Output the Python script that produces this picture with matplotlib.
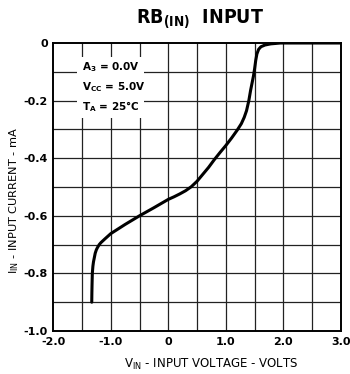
import matplotlib
matplotlib.use("Agg")
import matplotlib.pyplot as plt
from matplotlib.patches import Rectangle

# Input characteristic: input voltage (V) vs input current (mA)
v_in = [-1.33, -1.328, -1.325, -1.32, -1.31, -1.30, -1.285, -1.27, -1.25, -1.23,
        -1.20, -1.17, -1.10, -1.00, -0.75, -0.50, -0.25, 0.00, 0.10, 0.20,
        0.30, 0.40, 0.50, 0.60, 0.70, 0.80, 0.90, 1.00, 1.10, 1.20, 1.27,
        1.32, 1.36, 1.40, 1.43, 1.46, 1.48, 1.50, 1.52, 1.54, 1.57, 1.61,
        1.68, 1.78, 1.95, 2.50, 3.00]
i_in = [-0.90, -0.87, -0.84, -0.80, -0.775, -0.76, -0.745, -0.73, -0.718, -0.71,
        -0.70, -0.693, -0.68, -0.662, -0.63, -0.60, -0.572, -0.543, -0.534, -0.524,
        -0.513, -0.499, -0.480, -0.456, -0.432, -0.405, -0.380, -0.356, -0.330, -0.302, -0.280,
        -0.258, -0.235, -0.200, -0.165, -0.135, -0.115, -0.090, -0.060, -0.038, -0.022, -0.013,
        -0.007, -0.003, 0.0, 0.0, 0.0]

x_ticks = [-2.0, -1.0, 0.0, 1.0, 2.0, 3.0]
x_tick_labels = ["-2.0", "-1.0", "0", "1.0", "2.0", "3.0"]
y_ticks = [0.0, -0.2, -0.4, -0.6, -0.8, -1.0]
y_tick_labels = ["0", "-0.2", "-0.4", "-0.6", "-0.8", "-1.0"]

conditions = [r"A$_3$ = 0.0V", r"V$_{\mathregular{CC}}$ = 5.0V", r"T$_{\mathregular{A}}$ = 25°C"]

plt.rcParams["font.family"] = ["DejaVu Sans"]
plt.rcParams["mathtext.default"] = "regular"

fig = plt.figure(figsize=(3.5, 3.74), dpi=100)
ax = fig.add_axes([0.152, 0.115, 0.822, 0.770])

ax.set_xlim(-2.0, 3.0)
ax.set_ylim(-1.0, 0.0)

# grid every 0.5 V / 0.1 mA
for gx in [i * 0.5 - 2.0 for i in range(1, 10)]:
    ax.axvline(gx, color="#222222", lw=0.9, zorder=1)
for gy in [-i * 0.1 for i in range(1, 10)]:
    ax.axhline(gy, color="#222222", lw=0.9, zorder=1)

# blank area behind the test conditions
ax.add_patch(Rectangle((-1.585, -0.262), 1.17, 0.212, facecolor="white",
                       edgecolor="none", zorder=2))

ax.plot(v_in, i_in, color="black", lw=2.2, zorder=3,
        solid_capstyle="round", solid_joinstyle="round")

for k, txt in enumerate(conditions):
    ax.text(-1.5, -0.085 - k * 0.068, txt, fontsize=7.5, fontweight="bold",
            va="center", ha="left", zorder=4)

ax.set_xticks(x_ticks)
ax.set_xticklabels(x_tick_labels, fontsize=8, fontweight="bold")
ax.set_yticks(y_ticks)
ax.set_yticklabels(y_tick_labels, fontsize=8, fontweight="bold")
ax.tick_params(length=0, pad=4)

for s in ax.spines.values():
    s.set_linewidth(1.4)
    s.set_zorder(5)

ax.set_xlabel(r"V$_{\mathregular{IN}}$ - INPUT VOLTAGE - VOLTS", fontsize=8.5)
ax.set_ylabel(r"I$_{\mathregular{IN}}$ - INPUT CURRENT - mA", fontsize=8.2)
ax.xaxis.set_label_coords(0.55, -0.09)
ax.yaxis.set_label_coords(-0.135, 0.455)
ax.yaxis.label.set_va("center")

fig.text(0.571, 0.947, r"RB$_{\mathregular{(IN)}}$  INPUT", fontsize=14, fontweight="bold",
         fontstretch="condensed", ha="center", va="center")

fig.savefig("out.png", dpi=100, facecolor="white")
